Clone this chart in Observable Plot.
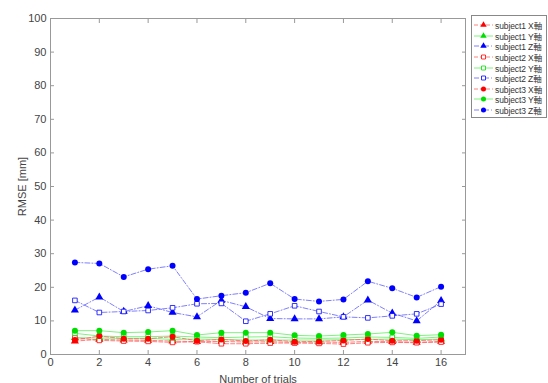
<!DOCTYPE html>
<html><head><meta charset="utf-8">
<script src="https://cdn.jsdelivr.net/npm/d3@7"></script>
<script src="https://cdn.jsdelivr.net/npm/@observablehq/plot@0.6"></script>
<style>
body{margin:0;background:#fff;}
#wrap{position:relative;width:548px;height:383px;overflow:hidden;}
#legend{position:absolute;left:471px;top:15px;width:76px;height:103px;border:1px solid #888;background:#fff;box-sizing:border-box;padding-top:4px;overflow:hidden;}
.row{display:flex;align-items:center;height:10.6px;font:8.5px "Liberation Sans","Noto Sans CJK JP",sans-serif;color:#333;white-space:nowrap;letter-spacing:-0.1px;}
.row svg{margin-left:2px;margin-right:2px;flex:none;}
</style></head><body><div id="wrap"><div id="legend"></div></div>
<script>
const trials = [1,2,3,4,5,6,7,8,9,10,11,12,13,14,15,16];
const s1X = [4.0,4.5,4.3,4.2,4.0,3.8,3.9,3.7,3.8,3.6,3.7,3.6,3.9,3.8,3.6,3.9];
const s1Y = [5.0,4.9,4.8,4.8,4.5,4.6,4.5,4.3,4.3,4.3,4.3,4.4,4.5,4.6,4.4,4.6];
const s1Z = [13.2,17.1,12.8,14.5,12.5,11.2,16.1,14.2,10.7,10.6,10.6,11.2,16.2,12.3,10.0,16.0];
const s2X = [5.0,4.2,4.0,3.9,3.6,3.8,3.2,3.2,3.4,3.4,3.3,3.1,3.5,3.6,3.5,3.7];
const s2Y = [6.3,5.5,5.3,5.3,5.5,5.2,5.0,5.2,5.3,4.9,4.8,4.9,5.2,5.1,4.8,5.2];
const s2Z = [16.1,12.5,12.8,13.1,13.9,15.1,15.2,9.9,12.1,14.5,12.8,11.2,10.9,11.5,12.1,15.0];
const s3X = [4.3,5.5,4.7,4.7,5.3,4.1,4.5,4.0,4.4,3.8,3.9,4.2,4.6,4.1,4.1,4.4];
const s3Y = [7.1,7.1,6.5,6.7,7.1,5.8,6.5,6.5,6.5,5.7,5.5,5.8,6.1,6.6,5.6,5.9];
const s3Z = [27.4,27.1,23.1,25.4,26.4,16.5,17.5,18.4,21.2,16.5,15.8,16.4,21.8,19.7,17.0,20.2];
const seriesNames = ["subject1 X軸","subject1 Y軸","subject1 Z軸","subject2 X軸","subject2 Y軸","subject2 Z軸","subject3 X軸","subject3 Y軸","subject3 Z軸"];
const seriesValues = [s1X,s1Y,s1Z,s2X,s2Y,s2Z,s3X,s3Y,s3Z];
const xTicks = [0,2,4,6,8,10,12,14,16];
const yTicks = [0,10,20,30,40,50,60,70,80,90,100];

const axisColor = {X:"#ff0000", Y:"#00dd00", Z:"#0000ff"};
const lineColor = {X:"#ff6060", Y:"#60ee60", Z:"#6060ff"};
const dashOf = {X:"4,2", Y:null, Z:"5,2,1,2"};
const symOf = ["triangle","square","circle"];

const series = seriesNames.map((name, i) => {
  const subj = Math.floor(i/3), ax = ["X","Y","Z"][i%3];
  return {name, subj, ax, color: axisColor[ax], line: lineColor[ax], dash: dashOf[ax], symbol: symOf[subj], open: subj===1,
    data: trials.map((t,j)=>({t, v: seriesValues[i][j]}))};
});

const marks = [];
for (const s of series) {
  marks.push(Plot.line(s.data, {x:"t", y:"v", stroke: s.line, strokeWidth: 0.8, strokeDasharray: s.dash}));
}
for (const s of series) {
  const r = s.symbol === "circle" ? 3 : s.symbol === "triangle" ? 3 : 2.6;
  marks.push(Plot.dot(s.data, {x:"t", y:"v", symbol: s.symbol, r,
    fill: s.open ? "white" : s.color, stroke: s.color, strokeWidth: s.open ? 0.8 : 0}));
}
const fontFam = "Liberation Sans, Arial, sans-serif";
const blank = () => "";
marks.push(
  Plot.frame({stroke:"#999", strokeWidth:1}),
  Plot.axisY({anchor:"left", ticks: yTicks, tickSize: -4, stroke:"#999", color:"#444", tickPadding: 8, label:"RMSE [mm]", labelAnchor:"center", labelArrow:false, labelOffset: 32, fontSize: 11}),
  Plot.axisY({anchor:"right", ticks: yTicks, tickSize: -4, stroke:"#999", tickFormat: blank, label: null}),
  Plot.axisX({anchor:"bottom", ticks: xTicks, tickSize: -4, stroke:"#999", color:"#444", tickPadding: 8, label:"Number of trials", labelAnchor:"center", labelArrow:false, labelOffset: 28, fontSize: 11}),
  Plot.axisX({anchor:"top", ticks: xTicks, tickSize: -4, stroke:"#999", tickFormat: blank, label: null})
);

const chart = Plot.plot({
  width: 548, height: 383,
  marginLeft: 50, marginRight: 83, marginTop: 18, marginBottom: 29,
  x: {domain:[0,17]},
  y: {domain:[0,100]},
  style: {fontFamily: fontFam, fontSize: "11px", color:"#444", background:"white"},
  marks
});
document.getElementById("wrap").prepend(chart);

// legend
const leg = document.getElementById("legend");
for (const s of series) {
  const row = document.createElement("div");
  row.className = "row";
  const svg = d3.create("svg").attr("width", 19).attr("height", 8);
  svg.append("line").attr("x1",0).attr("x2",19).attr("y1",4).attr("y2",4)
    .attr("stroke", s.line).attr("stroke-width",0.8).attr("stroke-dasharray", s.dash);
  const sym = {triangle: d3.symbolTriangle, square: d3.symbolSquare, circle: d3.symbolCircle}[s.symbol];
  svg.append("path").attr("transform","translate(9.5,4)")
    .attr("d", d3.symbol(sym, s.symbol==="square"?16:s.symbol==="triangle"?18:20)())
    .attr("fill", s.open ? "white" : s.color).attr("stroke", s.open ? s.color : "none").attr("stroke-width",0.8);
  row.appendChild(svg.node());
  const span = document.createElement("span");
  span.textContent = s.name;
  row.appendChild(span);
  leg.appendChild(row);
}
</script></body></html>
